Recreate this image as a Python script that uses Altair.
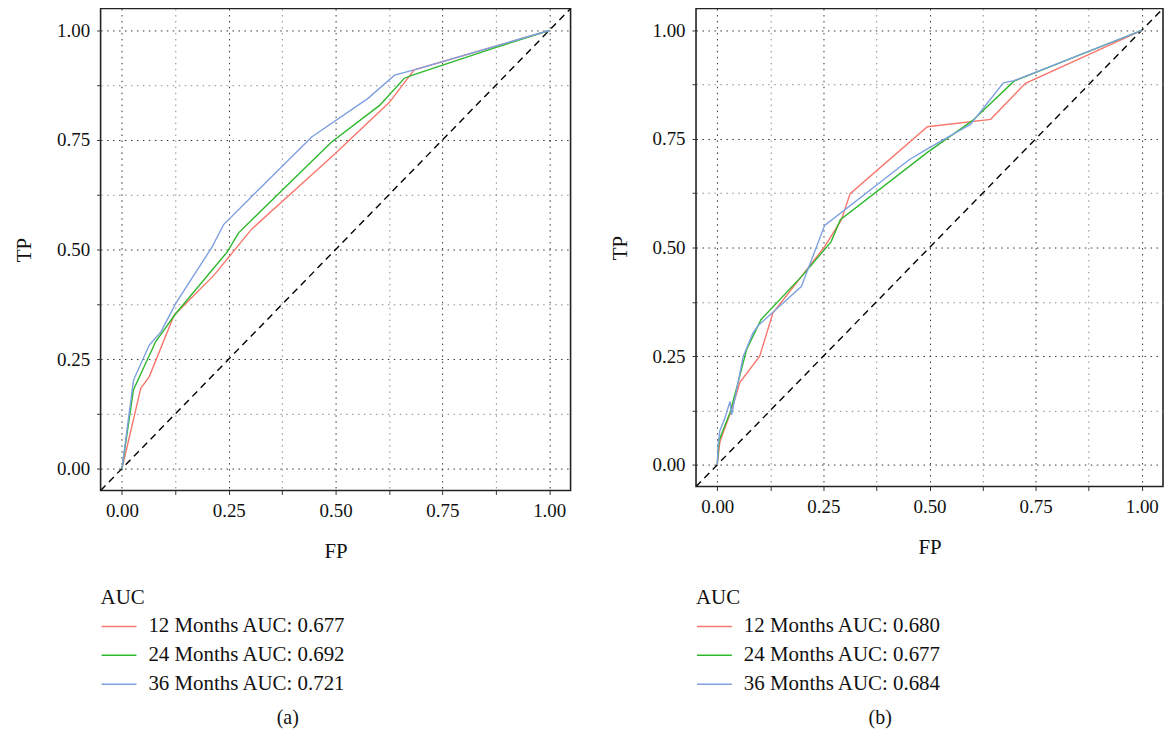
import altair as alt
import pandas as pd

# ---------------- data ----------------
series_names = ["12 Months", "24 Months", "36 Months"]
auc_a = ["0.677", "0.692", "0.721"]
auc_b = ["0.680", "0.677", "0.684"]
line_colors = ["#F8766D", "#2DB82D", "#7EA0E0"]

# Panel (a)
a12_fp = [0.0, 0.044, 0.064, 0.122, 0.215, 0.304, 0.498, 0.626, 0.684, 1.0]
a12_tp = [0.0, 0.183, 0.210, 0.350, 0.441, 0.547, 0.718, 0.836, 0.910, 1.0]
a24_fp = [0.0, 0.027, 0.079, 0.126, 0.246, 0.273, 0.490, 0.603, 0.661, 0.680, 0.874, 1.0]
a24_tp = [0.0, 0.180, 0.290, 0.354, 0.494, 0.538, 0.745, 0.829, 0.891, 0.898, 0.961, 1.0]
a36_fp = [0.0, 0.027, 0.064, 0.091, 0.126, 0.211, 0.238, 0.444, 0.576, 0.638, 0.684, 1.0]
a36_tp = [0.0, 0.202, 0.282, 0.312, 0.377, 0.506, 0.557, 0.757, 0.845, 0.898, 0.910, 1.0]

# Panel (b)
b12_fp = [0.0, 0.006, 0.014, 0.034, 0.045, 0.053, 0.100, 0.131, 0.253, 0.292, 0.313, 0.495, 0.644, 0.726, 1.0]
b12_tp = [0.0, 0.051, 0.074, 0.127, 0.162, 0.189, 0.250, 0.349, 0.502, 0.563, 0.624, 0.778, 0.795, 0.878, 1.0]
b24_fp = [0.0, 0.004, 0.010, 0.030, 0.049, 0.069, 0.103, 0.202, 0.268, 0.290, 0.495, 0.601, 0.699, 1.0]
b24_tp = [0.0, 0.055, 0.070, 0.120, 0.189, 0.265, 0.334, 0.437, 0.513, 0.564, 0.719, 0.792, 0.883, 1.0]
b36_fp = [0.0, 0.002, 0.006, 0.018, 0.030, 0.034, 0.061, 0.084, 0.096, 0.198, 0.253, 0.452, 0.495, 0.597, 0.674, 0.699, 1.0]
b36_tp = [0.0, 0.047, 0.078, 0.107, 0.146, 0.115, 0.249, 0.303, 0.320, 0.410, 0.551, 0.702, 0.727, 0.784, 0.879, 0.884, 1.0]

diag_fp = [-0.05, 1.05]
diag_tp = [-0.05, 1.05]

tick_values = [0.0, 0.125, 0.25, 0.375, 0.5, 0.625, 0.75, 0.875, 1.0]
axis_domain = [-0.05, 1.05]

FONT = "Liberation Serif"


def build_df(series_fp, series_tp, aucs):
    rows = []
    for name, auc, fps, tps in zip(series_names, aucs, series_fp, series_tp):
        label = f"{name} AUC: {auc}"
        for i, (f, t) in enumerate(zip(fps, tps)):
            rows.append({"label": label, "fp": f, "tp": t, "idx": i})
    return pd.DataFrame(rows)


def make_axis(title, is_y):
    kw = dict(
        title=title,
        values=tick_values,
        labelExpr="datum.value % 0.25 === 0 ? format(datum.value, '.2f') : ''",
        grid=True,
        gridDash=[1.5, 4.5],
        gridWidth=1,
        gridColor={"condition": {"test": "datum.value % 0.25 === 0", "value": "#333333"},
                   "value": "#8a8a8a"},
        domain=False,
        ticks=True,
        tickSize=4,
        tickColor="#333333",
        tickWidth=1,
        labelFont=FONT,
        labelFontSize=19,
        labelColor="#111111",
        labelPadding=7,
        labelFlush=False,
        labelOverlap=False,
        titleFont=FONT,
        titleFontSize=21,
        titleFontWeight="normal",
        titleColor="#111111",
    )
    if is_y:
        kw["titlePadding"] = 22
    else:
        kw["titlePadding"] = 20
    return alt.Axis(**kw)


def panel(series_fp, series_tp, aucs, caption, w, h, cap_x):
    df = build_df(series_fp, series_tp, aucs)
    labels = [f"{n} AUC: {a}" for n, a in zip(series_names, aucs)]
    xs = alt.Scale(domain=axis_domain, nice=False, zero=False)
    ys = alt.Scale(domain=axis_domain, nice=False, zero=False)

    diag = alt.Chart(pd.DataFrame({"fp": diag_fp, "tp": diag_tp})).mark_line(
        color="black", strokeDash=[7, 5], strokeWidth=1.4, clip=True
    ).encode(
        x=alt.X("fp:Q", scale=xs, axis=make_axis("FP", False)),
        y=alt.Y("tp:Q", scale=ys, axis=make_axis("TP", True)),
    )

    lines = alt.Chart(df).mark_line(strokeWidth=1.4, clip=True).encode(
        x=alt.X("fp:Q", scale=xs),
        y=alt.Y("tp:Q", scale=ys),
        color=alt.Color(
            "label:N",
            scale=alt.Scale(domain=labels, range=line_colors),
            legend=alt.Legend(
                title="AUC",
                orient="none",
                legendX=0,
                legendY=581,
                direction="vertical",
                symbolType="stroke",
                symbolSize=1225,
                symbolStrokeWidth=1.5,
                labelFont=FONT,
                labelFontSize=21,
                labelColor="#111111",
                labelOffset=11,
                labelLimit=0,
                titleFont=FONT,
                titleFontSize=21,
                titleFontWeight="normal",
                titleColor="#111111",
                titlePadding=0,
                rowPadding=-7,
                padding=0,
            ),
        ),
        order="idx:Q",
    )

    cap = alt.Chart(pd.DataFrame({"c": [caption]})).mark_text(
        font=FONT, fontSize=20, color="#111111", align="center", baseline="middle"
    ).encode(text="c:N", x=alt.value(cap_x), y=alt.value(713))

    return alt.layer(diag, lines, cap).properties(width=w, height=h)


pa = panel([a12_fp, a24_fp, a36_fp], [a12_tp, a24_tp, a36_tp], auc_a, "(a)", 472, 484, 188)
pb = panel([b12_fp, b24_fp, b36_fp], [b12_tp, b24_tp, b36_tp], auc_b, "(b)", 469, 480, 185)

chart = (
    alt.hconcat(pa, pb, spacing=36)
    .resolve_scale(color="independent", x="independent", y="independent")
    .properties(padding={"left": 4, "top": -2, "right": 0, "bottom": 0}, background="white")
    .configure_view(stroke="#222222", strokeWidth=1.6)
)

chart.save("out.html", embed_options={"renderer": "svg", "actions": False})
